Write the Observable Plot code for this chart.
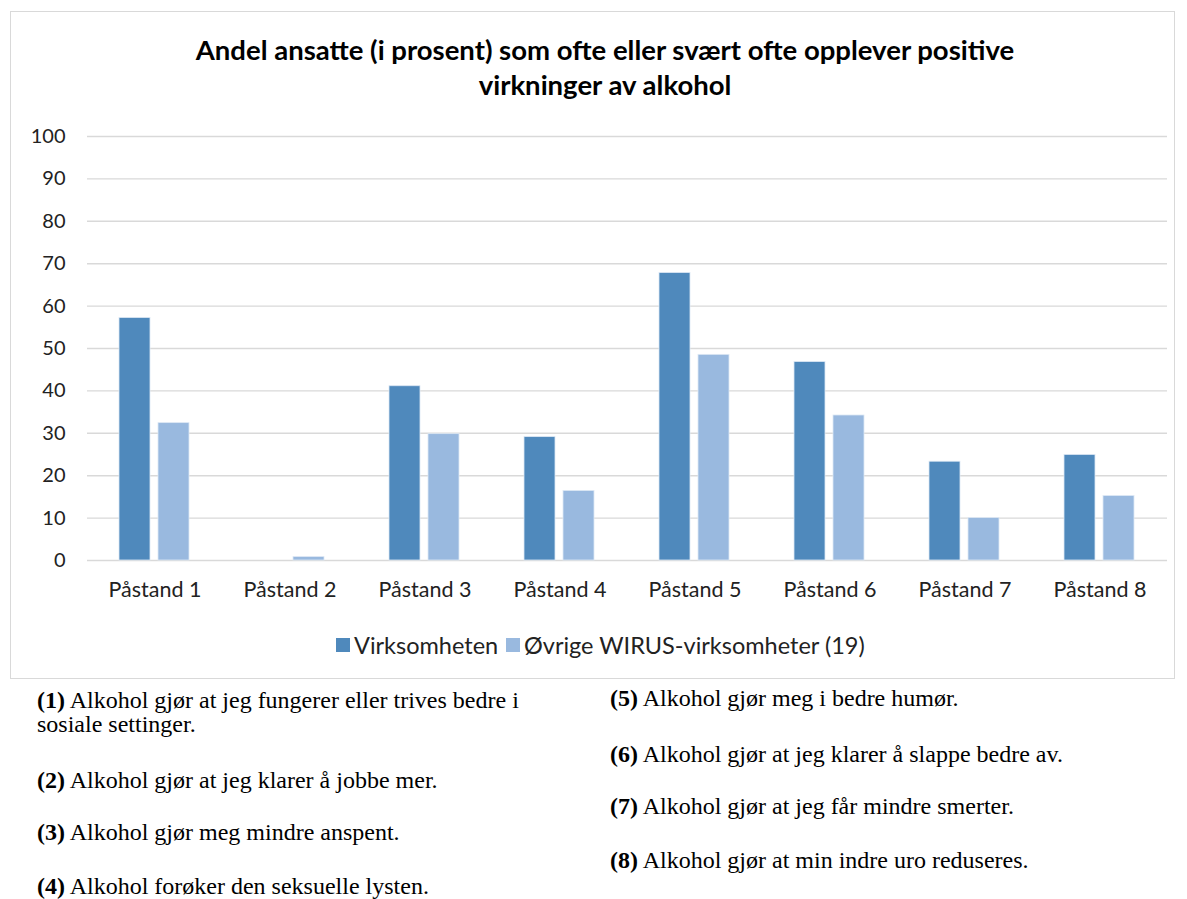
<!DOCTYPE html>
<html>
<head>
<meta charset="utf-8">
<script src="https://cdn.jsdelivr.net/npm/d3@7"></script>
<script src="https://cdn.jsdelivr.net/npm/@observablehq/plot@0.6"></script>
<style>
  html, body { margin: 0; padding: 0; background: #fff; }
  body { width: 1187px; height: 899px; position: relative; overflow: hidden; }
  #frame { position: absolute; left: 10px; top: 11px; width: 1165px; height: 668px; border: 1px solid #d9d9d9; box-sizing: border-box; }
  #title { position: absolute; left: 0; top: 32px; width: 1210px; text-align: center; font-family: Lato, "Open Sans", sans-serif; font-weight: bold; font-size: 27.5px; line-height: 35px; color: #000; }
  #chart { position: absolute; left: 0; top: 116px; }
  #legend { position: absolute; top: 632px; left: 0; width: 1187px; font-family: Lato, "Open Sans", sans-serif; font-size: 23.5px; color: #222; }
  .lg { position: absolute; top: 0; display: flex; align-items: center; height: 26px; }
  .sw { width: 14px; height: 14px; margin-right: 4px; }
  .note { position: absolute; font-family: "Liberation Serif", "Times New Roman", serif; font-size: 24px; line-height: 24px; color: #000; white-space: nowrap; }
</style>
</head>
<body>
<div id="frame"></div>
<div id="title">Andel ansatte (i prosent) som ofte eller svært ofte opplever positive<br>virkninger av alkohol</div>
<div id="chart"></div>
<div id="legend"></div>
<div id="notes"></div>
<script>
const categories = ["Påstand 1","Påstand 2","Påstand 3","Påstand 4","Påstand 5","Påstand 6","Påstand 7","Påstand 8"];
const seriesNames = ["Virksomheten","Øvrige WIRUS-virksomheter (19)"];
const virksomheten = [57.2, 0, 41.1, 29.1, 67.8, 46.8, 23.3, 24.9];
const ovrige = [32.4, 0.8, 29.8, 16.4, 48.5, 34.2, 10.0, 15.2];
const colors = ["#4f89bc", "#99b9df"];
const yTicks = [0,10,20,30,40,50,60,70,80,90,100];
const notesLeft = [
  ["(1)", " Alkohol gjør at jeg fungerer eller trives bedre i<br>sosiale settinger."],
  ["(2)", " Alkohol gjør at jeg klarer å jobbe mer."],
  ["(3)", " Alkohol gjør meg mindre anspent."],
  ["(4)", " Alkohol forøker den seksuelle lysten."]
];
const notesRight = [
  ["(5)", " Alkohol gjør meg i bedre humør."],
  ["(6)", " Alkohol gjør at jeg klarer å slappe bedre av."],
  ["(7)", " Alkohol gjør at jeg får mindre smerter."],
  ["(8)", " Alkohol gjør at min indre uro reduseres."]
];

const data = [];
categories.forEach((c, i) => {
  data.push({cat: c, series: seriesNames[0], value: virksomheten[i]});
  data.push({cat: c, series: seriesNames[1], value: ovrige[i]});
});

const chart = Plot.plot({
  width: 1187,
  height: 494,
  marginLeft: 84,
  marginRight: 17,
  marginTop: 20,
  marginBottom: 50,
  style: {fontFamily: "Lato, 'Open Sans', sans-serif", fontSize: "19px", color: "#222", background: "transparent"},
  fx: {domain: categories, padding: 0, label: null},
  x: {domain: seriesNames, paddingInner: 0.2, paddingOuter: 0.82, axis: null},
  y: {domain: [0, 100], label: null},
  color: {domain: seriesNames, range: colors},
  marks: [
    Plot.ruleY(yTicks, {stroke: "#d9d9d9", strokeWidth: 1.4}),
    Plot.barY(data, {fx: "cat", x: "series", y: "value", fill: "series", stroke: "#dde8f4", strokeWidth: 0.8}),
    Plot.axisY(yTicks, {tickSize: 0, tickPadding: 22, label: null, fontSize: 20}),
    Plot.axisFx({anchor: "bottom", tickSize: 0, tickPadding: 21, label: null, fontSize: 21.5})
  ]
});
document.getElementById("chart").appendChild(chart);

const legend = document.getElementById("legend");
const lgPos = [336, 506];
seriesNames.forEach((s, i) => {
  const d = document.createElement("div");
  d.className = "lg";
  d.style.left = lgPos[i] + "px";
  d.innerHTML = `<span class="sw" style="background:${colors[i]}"></span><span>${s}</span>`;
  legend.appendChild(d);
});

const notes = document.getElementById("notes");
const leftTops = [688, 768, 820, 874];
const rightTops = [686, 742, 794, 848];
notesLeft.forEach((n, i) => {
  const d = document.createElement("div");
  d.className = "note";
  d.style.left = "37px"; d.style.top = leftTops[i] + "px";
  d.innerHTML = `<b>${n[0]}</b>${n[1]}`;
  notes.appendChild(d);
});
notesRight.forEach((n, i) => {
  const d = document.createElement("div");
  d.className = "note";
  d.style.left = "610px"; d.style.top = rightTops[i] + "px";
  d.innerHTML = `<b>${n[0]}</b>${n[1]}`;
  notes.appendChild(d);
});
</script>
</body>
</html>
